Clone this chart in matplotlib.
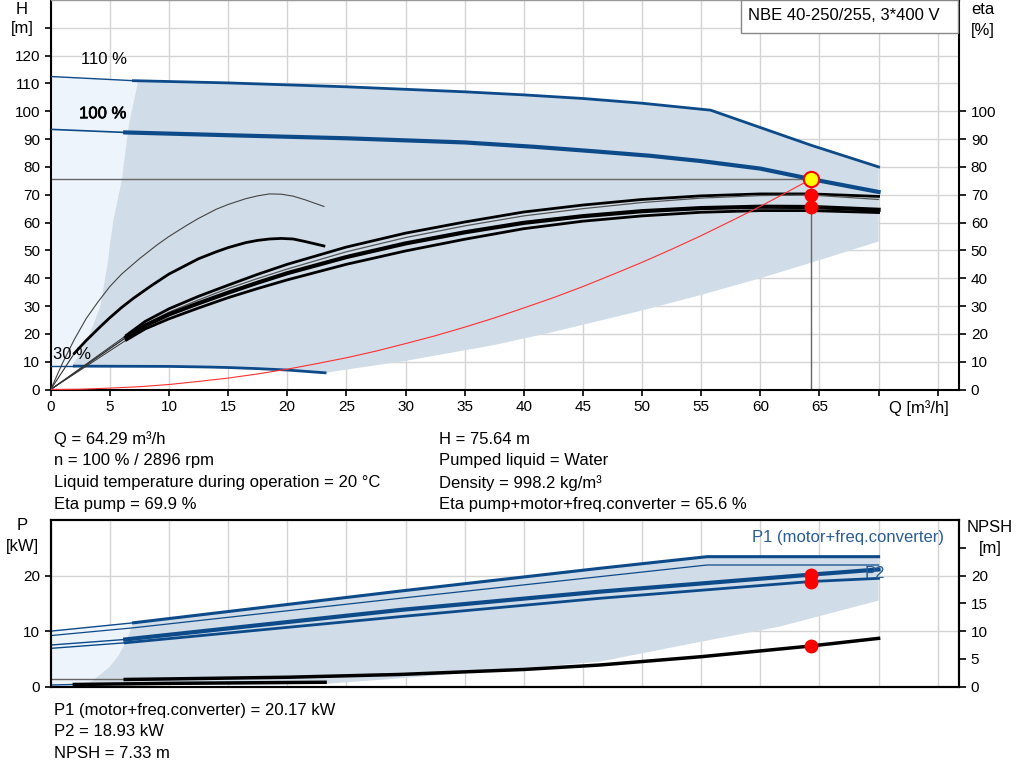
import numpy as np
import matplotlib
matplotlib.use("Agg")
import matplotlib.pyplot as plt
import matplotlib.patheffects as pe
from matplotlib.patches import Rectangle

plt.rcParams['font.family'] = ['Liberation Sans', 'DejaVu Sans']

BLUE = '#0D4A8A'
DARK = '#D0DCE7'
LIGHT = '#EDF4FB'
GRID = '#D4D4D4'
FS = 12

# ---- head curves [m]
q110 = [0, 7, 15, 25, 35, 40, 45, 50, 55.8, 64.29, 70]
h110 = [112.5, 111, 110.2, 108.8, 107, 105.9, 104.6, 102.9, 100.4, 87.8, 80]
q100 = [0, 6.3, 15, 25, 35, 41, 46, 50.7, 55, 60, 64.29, 70]
h100 = [93.5, 92.4, 91.4, 90.3, 88.8, 87.2, 85.6, 84.0, 82.1, 79.4, 75.64, 71]
q30 = [0, 2, 10, 13, 15, 17.5, 20, 23.2]
h30 = [8.4, 8.4, 8.3, 8.1, 7.9, 7.5, 7.0, 6.0]

# ---- efficiency curves [%]
q_eta = [0, 6.4, 8, 10, 12.5, 15, 17.5, 20, 25, 30, 35, 40, 45, 50, 55, 60, 64.29, 70]
eta_a = [0, 19.5, 24.5, 29, 33.5, 37.5, 41.4, 45, 51.2, 56.2, 60.2, 63.8, 66.3, 68.3, 69.6, 70.3, 70.3, 69.4]
eta_b = [0, 18.8, 23.5, 27.8, 32.2, 36.3, 39.9, 43.3, 49.5, 54.6, 58.8, 62.4, 65.0, 67.2, 68.8, 69.7, 69.9, 68.3]
eta_c = [0, 18.8, 23.0, 27.0, 31.0, 34.8, 38.4, 41.8, 47.6, 52.5, 56.5, 59.9, 62.3, 64.1, 65.2, 65.7, 65.6, 64.6]
eta_d = [0, 17.8, 21.8, 25.4, 29.3, 33.0, 36.3, 39.4, 45.0, 49.8, 54.0, 57.8, 60.5, 62.4, 63.7, 64.3, 64.3, 63.6]
q_eta30 = [0, 1, 2, 3, 4, 5, 6, 7.5, 9, 10, 11.5, 12.5, 14, 15, 16.5, 17.5, 18.5,
           19.5, 20.5, 21.5, 22.3, 23.1]
eta30_pump = [0, 9.5, 18, 25.5, 31.5, 37, 41.5, 47, 52, 55, 59, 61.5, 64.8, 66.5, 68.6,
              69.6, 70.3, 70.2, 69.5, 68.2, 67, 65.8]
q_eta30t = [0, 2, 3, 4.2, 5, 6, 7, 8.5, 10, 11.5, 12.5, 14, 15, 16.5, 17.5, 18.5,
            19.5, 20.5, 21.5, 22.3, 23.1]
eta30_tot = [0, 13, 17.6, 22.6, 25.8, 29.5, 32.8, 37.3, 41.5, 44.8, 47, 49.5, 51, 52.8,
             53.6, 54.1, 54.3, 54.1, 53.2, 52.4, 51.6]

# ---- system curve
q_sys = [0, 2.5, 5, 7.5, 10, 12.5, 15, 17.5, 20, 22.5, 25, 27.5, 30, 32.5, 35, 37.5, 40,
         42.5, 45, 47.5, 50, 52.5, 55, 57.5, 60, 62.5, 64.29]
h_sys = [0, 0.1, 0.5, 1.0, 1.8, 2.9, 4.1, 5.6, 7.3, 9.3, 11.4, 13.8, 16.5, 19.3, 22.4,
         25.7, 29.3, 33.0, 37.0, 41.3, 45.7, 50.4, 55.3, 60.5, 65.8, 71.5, 75.64]

# ---- operating area boundaries
q_left = [1.8, 2.5, 3.3, 4.2, 4.8, 5.3, 6.0, 6.6, 7.4]
h_left = [8.5, 13, 20, 30, 45, 61, 75, 95, 111]
q_low = [70, 65, 60, 55, 49.8, 42.2, 37.4, 30, 23.2]
h_low = [53.2, 46.5, 40, 34, 28.2, 20.4, 15.9, 10.3, 6.0]

# ---- duty point
q_op, h_op = 64.29, 75.64
eta_pump_op, eta_tot_op = 69.9, 65.6

# ---- power curves [kW]
q_p110 = [0, 7, 29.5, 46.4, 55.5, 70]
p1_110 = [10, 11.5, 17.2, 21.3, 23.4, 23.4]
p2_110 = [9.2, 10.6, 15.9, 19.8, 21.9, 21.9]
q_p100 = [0, 6.3, 29.5, 46.4, 64.29, 70]
p1_100 = [7.5, 8.5, 13.8, 17.1, 20.17, 21.1]
p2_100 = [6.9, 7.9, 12.6, 15.9, 18.93, 19.5]
q_p30 = [0, 2, 10, 23.2]
p1_30 = [0.3, 0.4, 0.6, 0.8]
q_npsh = [0, 6.3, 10, 20, 29.5, 40, 46.4, 55, 64.29, 70]
npsh = [1.3, 1.3, 1.4, 1.7, 2.2, 3.1, 3.9, 5.4, 7.33, 8.7]
q_pleft = [2.0, 3.5, 5.0, 5.7, 6.3, 7.0]
p_pleft = [0.3, 1.0, 3.6, 5.5, 7.8, 11.5]
q_plow = [70, 61.6, 55, 46.4, 37, 29.5, 23.2]
p_plow = [15.5, 10.8, 8.1, 4.5, 2.8, 1.5, 0.5]
p1_op, p2_op, npsh_op = 20.17, 18.93, 7.33

W, H = 1024, 781
fig = plt.figure(figsize=(W / 100, H / 100), dpi=100)
L = 50.7 / W
AW = (959 - 50.7) / W
ax = fig.add_axes([L, 1 - 389.5 / H, AW, 389.5 / H])
ax2 = fig.add_axes([L, 1 - 686.7 / H, AW, (686.7 - 520) / H])

for a in (ax, ax2):
    a.set_xlim(0, 76.8)
    a.set_xticks(np.arange(0, 80, 5))
    a.grid(True, color=GRID, lw=1)
    a.set_axisbelow(True)
    a.tick_params(labelsize=11, length=4, width=1.2, color='black')
    for s in a.spines.values():
        s.set_linewidth(1.5)

# ================= top chart
ax.set_ylim(0, 140)
ax.set_yticks(np.arange(0, 140, 10))
ax.set_yticklabels([str(v) if v <= 120 else '' for v in range(0, 140, 10)])
ax.set_xticklabels([str(v) if v <= 65 else '' for v in range(0, 80, 5)])
ax.spines['top'].set_color('#999999')
ax.spines['top'].set_linewidth(1)
ax.spines['right'].set_visible(False)

# shaded areas
top_q = [q for q in q110 if q >= 7.4]
top_h = [h for q, h in zip(q110, h110) if q >= 7.4]
lq = [0] + [q for q in q110 if q < 7.4] + list(reversed(q_left)) + [0]
lh = [112.5] + [h for q, h in zip(q110, h110) if q < 7.4] + list(reversed(h_left)) + [8.4]
ax.fill(lq, lh, color=LIGHT, lw=0, zorder=1)
dq = q_left + top_q + q_low + [20, 17.5, 15, 13, 10, 2]
dh = h_left + top_h + h_low + [7.0, 7.5, 7.9, 8.1, 8.3, 8.4]
ax.fill(dq, dh, color=DARK, lw=0, zorder=1)

# head curves
ax.plot(q110[:2], h110[:2], color=BLUE, lw=1, zorder=3)
ax.plot(q110[1:], h110[1:], color=BLUE, lw=2, zorder=3)
ax.plot(q100[:2], h100[:2], color=BLUE, lw=1.2, zorder=3)
ax.plot(q100[1:], h100[1:], color=BLUE, lw=3, zorder=3)
ax.plot(q30[:2], h30[:2], color=BLUE, lw=1, zorder=3)
ax.plot(q30[1:], h30[1:], color=BLUE, lw=2, zorder=3)

# efficiency curves
for e, w, c in ((eta_a, 2, 'black'), (eta_b, 0.9, '#555555'),
                (eta_c, 3, 'black'), (eta_d, 2, 'black')):
    ax.plot(q_eta[:2], e[:2], color='#333333', lw=0.7, zorder=4)
    ax.plot(q_eta[1:], e[1:], color=c, lw=w, zorder=4)
ax.plot(q_eta30, eta30_pump, color='#444444', lw=0.8, zorder=4)
ax.plot(q_eta30t[:2], eta30_tot[:2], color='#333333', lw=0.8, zorder=4)
ax.plot(q_eta30t[1:], eta30_tot[1:], color='black', lw=2, zorder=4)

# system curve and duty point
ax.plot(q_sys, h_sys, color='#FF3030', lw=0.8, zorder=4)
ax.plot([0, q_op], [h_op, h_op], color='#666666', lw=1, zorder=2)
ax.plot([q_op, q_op], [0, h_op], color='#666666', lw=1, zorder=2)
ax.plot([q_op, q_op], [eta_pump_op, eta_tot_op], 'o', color='red', ms=9, zorder=6)
ax.plot(q_op, h_op, 'o', mfc='yellow', mec='red', mew=1.5, ms=11, zorder=7)

ax.text(2.6, 117, '110 %', fontsize=FS)
ax.text(2.4, 97.5, '100 %', fontsize=FS,
        path_effects=[pe.withStroke(linewidth=0.5, foreground='black')])
ax.text(0.2, 11, '30 %', fontsize=FS, zorder=8)

fig.text(919 / W, 1 - 408 / H, 'Q [m³/h]', fontsize=FS, ha='center', va='center')

# right eta axis
axr = ax.twinx()
axr.set_ylim(0, 140)
axr.set_yticks(np.arange(0, 110, 10))
axr.tick_params(labelsize=11, length=5, width=1.2)
for s in ('top', 'left', 'bottom'):
    axr.spines[s].set_visible(False)
axr.spines['right'].set_linewidth(1.5)

# legend box
fig.add_artist(Rectangle((741 / W, 1 - 33 / H), (958 - 741) / W, 33 / H,
                         transform=fig.transFigure, fc='white', ec='#888888', lw=1, zorder=10))
fig.text(748 / W, 1 - 15 / H, 'NBE 40-250/255, 3*400 V', fontsize=FS, va='center', zorder=11)

fig.text(22 / W, 1 - 9 / H, 'H', fontsize=FS, ha='center', va='center')
fig.text(22 / W, 1 - 28 / H, '[m]', fontsize=FS, ha='center', va='center')
fig.text(983 / W, 1 - 10 / H, 'eta', fontsize=FS, ha='center', va='center')
fig.text(983 / W, 1 - 30 / H, '[%]', fontsize=FS, ha='center', va='center')

# ================= lower chart
ax2.set_ylim(0, 30)
ax2.set_yticks([0, 10, 20])
ax2.set_xticklabels([])
ax2.tick_params(axis='x', length=0)

pl_top_q = [q for q in q_p110 if q >= 7]
pl_top_p = [p for q, p in zip(q_p110, p1_110) if q >= 7]
ax2.fill([0, 7] + list(reversed(q_pleft)) + [0],
         [10, 11.5] + list(reversed(p_pleft)) + [0.3], color=LIGHT, lw=0, zorder=1)
ax2.fill(q_pleft + pl_top_q[1:] + q_plow,
         p_pleft + pl_top_p[1:] + p_plow, color=DARK, lw=0, zorder=1)

ax2.plot(q_p110[:2], p1_110[:2], color=BLUE, lw=1, zorder=3)
ax2.plot(q_p110[1:], p1_110[1:], color=BLUE, lw=2.2, zorder=3)
ax2.plot(q_p110, p2_110, color=BLUE, lw=0.9, zorder=3)
ax2.plot(q_p100[:2], p1_100[:2], color=BLUE, lw=1, zorder=3)
ax2.plot(q_p100[1:], p1_100[1:], color=BLUE, lw=3, zorder=3)
ax2.plot(q_p100[:2], p2_100[:2], color=BLUE, lw=1, zorder=3)
ax2.plot(q_p100[1:], p2_100[1:], color=BLUE, lw=2, zorder=3)
ax2.plot(q_p30[:2], p1_30[:2], color=BLUE, lw=1, zorder=3)
ax2.plot(q_p30[1:], p1_30[1:], color='black', lw=2.5, zorder=3)
ax2.plot(q_npsh[:2], npsh[:2], color='#666666', lw=1, zorder=3)
ax2.plot(q_npsh[1:], npsh[1:], color='black', lw=2.5, zorder=4)
ax2.plot([q_op] * 3, [p1_op, p2_op, npsh_op], 'o', color='red', ms=9, zorder=6)

ax2.text(75.5, 26.8, 'P1 (motor+freq.converter)', color='#2A5C95', fontsize=FS,
         ha='right', va='center')
ax2.text(68.8, 20.3, 'P2', color='#2A5C95', fontsize=FS, ha='left', va='center', zorder=8)

ax2r = ax2.twinx()
ax2r.set_ylim(0, 30)
ax2r.set_yticks(np.arange(0, 30, 5))
ax2r.set_yticklabels(['0', '5', '10', '15', '20', ''])
ax2r.tick_params(labelsize=11, length=5, width=1.2)
for s in ax2r.spines.values():
    s.set_linewidth(1.5)

fig.text(22 / W, 1 - 526 / H, 'P', fontsize=FS, ha='center', va='center')
fig.text(22 / W, 1 - 547 / H, '[kW]', fontsize=FS, ha='center', va='center')
fig.text(990 / W, 1 - 527 / H, 'NPSH', fontsize=FS, ha='center', va='center')
fig.text(990 / W, 1 - 548 / H, '[m]', fontsize=FS, ha='center', va='center')

# ================= info text
left_lines = ['Q = 64.29 m³/h', 'n = 100 % / 2896 rpm',
              'Liquid temperature during operation = 20 °C', 'Eta pump = 69.9 %']
right_lines = ['H = 75.64 m', 'Pumped liquid = Water', 'Density = 998.2 kg/m³',
               'Eta pump+motor+freq.converter = 65.6 %']
for i, (a, b) in enumerate(zip(left_lines, right_lines)):
    y = 1 - (439 + 22 * i) / H
    fig.text(54 / W, y, a, fontsize=FS, va='center')
    fig.text(439 / W, y, b, fontsize=FS, va='center')
bottom_lines = ['P1 (motor+freq.converter) = 20.17 kW', 'P2 = 18.93 kW', 'NPSH = 7.33 m']
for i, t in enumerate(bottom_lines):
    fig.text(54 / W, 1 - (711 + 21 * i) / H, t, fontsize=FS, va='center')

fig.savefig('out.png', dpi=100)
